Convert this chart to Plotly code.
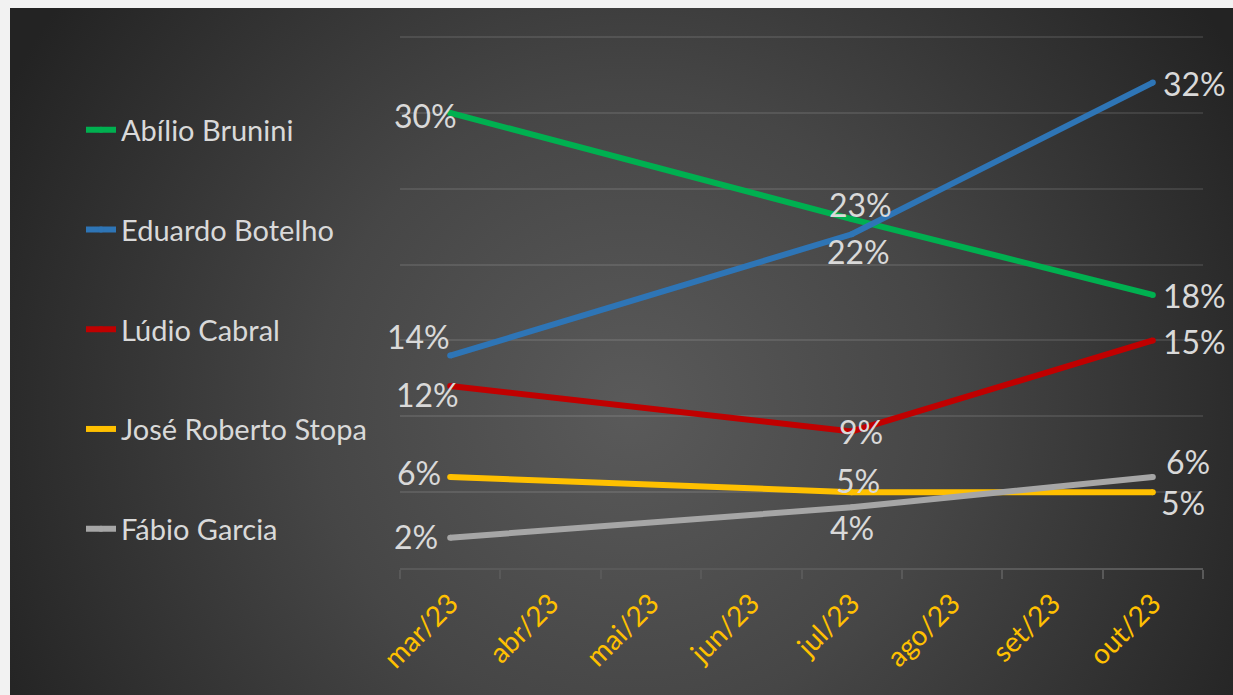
import base64
import plotly.graph_objects as go

# ---------------- data ----------------
months = ["mar/23", "abr/23", "mai/23", "jun/23", "jul/23", "ago/23", "set/23", "out/23"]
names = ["Abílio Brunini", "Eduardo Botelho", "Lúdio Cabral", "José Roberto Stopa", "Fábio Garcia"]
abilio = [30, None, None, None, 23, None, None, 18]
eduardo = [14, None, None, None, 22, None, None, 32]
ludio = [12, None, None, None, 9, None, None, 15]
jose = [6, None, None, None, 5, None, None, 5]
fabio = [2, None, None, None, 4, None, None, 6]
series = [abilio, eduardo, ludio, jose, fabio]

# ---------------- styles ----------------
colors = ["#00B050", "#2E75B6", "#C00000", "#FFC000", "#A6A6A6"]
W, H = 1233, 695
ML, MR, MT, MB = 400, 30, 36, 127
PW, PH = W - ML - MR, H - MT - MB
FONT = "Lato"
LABEL_COLOR = "#D9D9D9"

# label placement per series, per data point index: (xanchor, xshift, yshift)
label_pos = [
    {0: ("right", 9, -3), 4: ("center", 9, 15), 7: ("left", 8, -1)},
    {0: ("right", 2, 19), 4: ("center", 7, -17), 7: ("left", 8, -1)},
    {0: ("right", 11, -9), 4: ("center", 9, 0), 7: ("left", 8, -1)},
    {0: ("right", -7, 4), 4: ("center", 6, 12), 7: ("left", 6, -10)},
    {0: ("right", -10, 1), 4: ("center", 0, -20), 7: ("left", 11, 15)},
]


def px_x(p):
    return (p - ML) / PW


def px_y(p):
    return (H - MB - p) / PH


# background radial gradient as inline SVG
bw, bh = W - 10, H - 8
svg = f'''<svg xmlns="http://www.w3.org/2000/svg" width="{bw}" height="{bh}">
<defs><radialGradient id="g" gradientUnits="userSpaceOnUse" cx="620" cy="400" r="700">
<stop offset="0" stop-color="#5a5a5a"/><stop offset="0.45" stop-color="#464646"/>
<stop offset="1" stop-color="#232323"/></radialGradient></defs>
<rect width="{bw}" height="{bh}" fill="url(#g)"/></svg>'''
src = "data:image/svg+xml;base64," + base64.b64encode(svg.encode()).decode()

fig = go.Figure()
for i, (name, vals) in enumerate(zip(names, series)):
    fig.add_trace(go.Scatter(
        x=months, y=vals, name=name, mode="lines+markers", connectgaps=True,
        line=dict(color=colors[i], width=6),
        marker=dict(color=colors[i], size=6),
        legendgroup=name, hoverinfo="skip",
    ))
    for j, v in enumerate(vals):
        if v is None:
            continue
        xa, xs, ys = label_pos[i][j]
        fig.add_annotation(
            x=months[j], y=v, xref="x", yref="y", text=f"{v}%", showarrow=False,
            xanchor=xa, yanchor="middle", xshift=xs, yshift=ys,
            font=dict(family=FONT, size=32, color=LABEL_COLOR),
        )

fig.add_layout_image(dict(
    source=src, xref="paper", yref="paper", x=px_x(10), y=px_y(8),
    sizex=bw / PW, sizey=bh / PH, xanchor="left", yanchor="top",
    sizing="stretch", layer="below",
))

fig.update_layout(
    width=W, height=H, autosize=False,
    margin=dict(l=ML, r=MR, t=MT, b=MB, pad=0),
    paper_bgcolor="#F2F2F2", plot_bgcolor="rgba(0,0,0,0)",
    font=dict(family=FONT, color=LABEL_COLOR),
    showlegend=True,
    legend=dict(
        x=px_x(81), y=px_y(104.5), xanchor="left", yanchor="top",
        bgcolor="rgba(0,0,0,0)", font=dict(family=FONT, size=29, color=LABEL_COLOR),
        tracegroupgap=59, traceorder="grouped", itemwidth=30,
    ),
    xaxis=dict(
        type="category", categoryorder="array", categoryarray=months,
        range=[-0.5, len(months) - 0.5], tickson="boundaries",
        showgrid=False, zeroline=False, showline=True, linecolor="#595959", linewidth=2,
        ticks="outside", ticklen=9, tickcolor="#595959", tickwidth=2,
        tickangle=-45, tickfont=dict(family=FONT, size=28, color="#FFC000"),
        ticklabelstandoff=6,
        fixedrange=True,
    ),
    yaxis=dict(
        range=[0, 35.07], tickvals=[5, 10, 15, 20, 25, 30, 35], showticklabels=False,
        showgrid=True, gridcolor="rgba(255,255,255,0.10)", gridwidth=2, zeroline=False,
        showline=False, ticks="", fixedrange=True,
    ),
)

fig.write_html(
    "out.html",
    config={"displayModeBar": False, "staticPlot": True},
    post_script="document.body.style.margin='0';document.body.style.overflow='hidden';"
                "document.body.style.background='#F2F2F2';",
)
